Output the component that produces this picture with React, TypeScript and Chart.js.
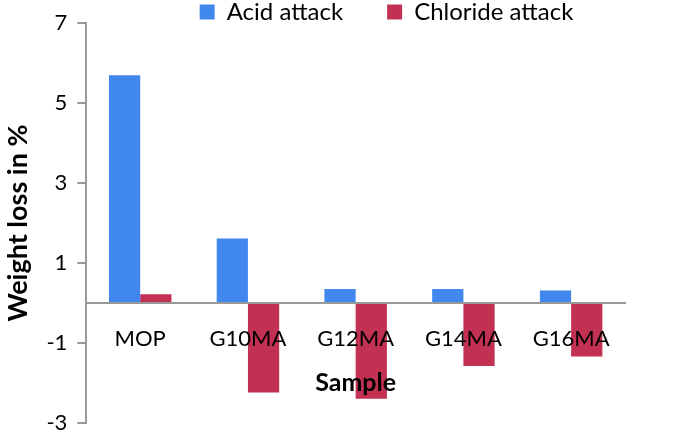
import React, { useEffect, useRef } from "react";
import { Chart, registerables } from "chart.js";

Chart.register(...registerables);

const categories = ["MOP", "G10MA", "G12MA", "G14MA", "G16MA"];
const acidAttack = [5.7, 1.61, 0.35, 0.35, 0.31];
const chlorideAttack = [0.22, -2.24, -2.4, -1.58, -1.34];
const yTicks = [-3, -1, 1, 3, 5, 7];

const FONT = "Lato, 'Open Sans', sans-serif";
const AXIS = "#999999";
const LEG_PAD = 44;

const legendTweak = {
  id: "legendTweak",
  beforeInit(chart: any) {
    const orig = chart.legend.fit;
    chart.legend.fit = function fit() {
      orig.bind(chart.legend)();
      this.height = 20;
    };
  },
  afterLayout(chart: any) {
    const lg = chart.legend;
    lg.top = -LEG_PAD;
    lg.left += 74;
    lg.right += 74;
  },
};

export default function App() {
  const ref = useRef<HTMLCanvasElement>(null);
  useEffect(() => {
    const chart = new Chart(ref.current!, {
      type: "bar",
      data: {
        labels: categories,
        datasets: [
          {
            label: "Acid attack",
            data: acidAttack,
            backgroundColor: "#4088EE",
            borderWidth: 0,
          },
          {
            label: "Chloride attack",
            data: chlorideAttack,
            backgroundColor: "#C23052",
            borderWidth: 0,
          },
        ],
      },
      plugins: [legendTweak],
      options: {
        animation: false,
        responsive: true,
        maintainAspectRatio: false,
        layout: { padding: { left: 0, right: 60, top: 0, bottom: 0 } },
        datasets: { bar: { categoryPercentage: 0.58, barPercentage: 1 } },
        plugins: {
          tooltip: { enabled: false },
          legend: {
            position: "top",
            labels: {
              font: { family: FONT, size: 24 },
              color: "#000",
              boxWidth: 15,
              boxHeight: 15,
              padding: LEG_PAD,
            },
          },
        },
        scales: {
          x: {
            position: { y: 0 } as any,
            grid: { display: false, drawTicks: false, z: 1 },
            border: { display: true, color: AXIS, width: 2, z: 1 },
            ticks: {
              font: { family: FONT, size: 22 },
              color: "#000",
              padding: 23,
              maxRotation: 0,
              z: 1,
            },
            title: {
              display: true,
              text: "Sample",
              font: { family: FONT, size: 25, weight: "bold" },
              color: "#000",
              padding: { top: -7, bottom: 0 },
            },
          },
          y: {
            min: -3,
            max: 7,
            afterBuildTicks: (s: any) => {
              s.ticks = yTicks.map((v) => ({ value: v }));
            },
            grid: {
              drawOnChartArea: false,
              drawTicks: true,
              tickLength: 9,
              color: AXIS,
              lineWidth: 2,
            },
            border: { display: true, color: AXIS, width: 2 },
            ticks: {
              font: { family: FONT, size: 22 },
              color: "#000",
              padding: 10,
            },
            title: {
              display: true,
              text: "Weight loss in %",
              font: { family: FONT, size: 27, weight: "bold" },
              color: "#000",
              padding: { top: 2, bottom: 2 },
            },
          },
        },
      },
    });
    return () => chart.destroy();
  }, []);
  return (
    <div style={{ position: "fixed", left: 0, top: 0, width: 685, height: 446 }}>
      <canvas ref={ref} />
    </div>
  );
}
